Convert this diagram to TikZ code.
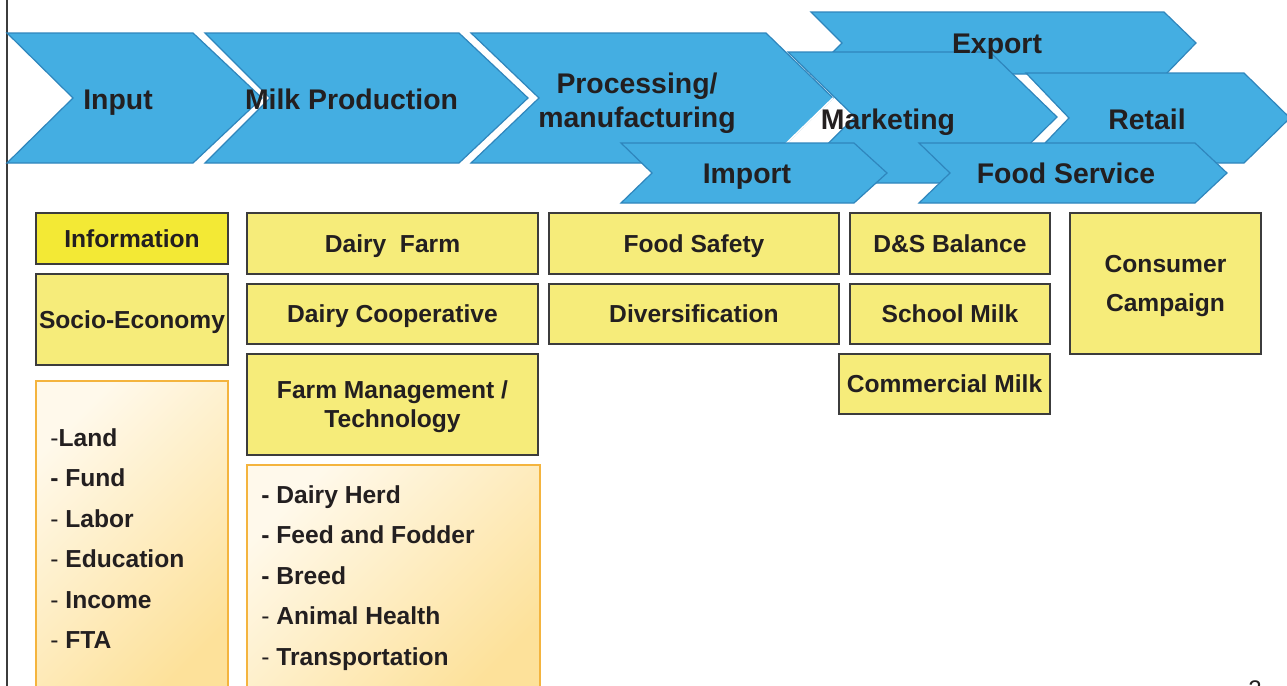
\documentclass[tikz,border=0pt]{standalone}
\usepackage{fontspec}
\setmainfont{Liberation Sans}
\definecolor{chevfill}{HTML}{44AEE2}
\definecolor{chevline}{HTML}{2F86BD}
\definecolor{boxfill}{HTML}{F6EC7A}
\definecolor{infofill}{HTML}{F3E935}
\definecolor{boxline}{HTML}{3C3C3C}
\definecolor{listline}{HTML}{F4B43E}
\definecolor{listlight}{HTML}{FFF9EB}
\definecolor{listdark}{HTML}{FDE19A}
\definecolor{textcol}{HTML}{231F20}
\tikzset{
  chev/.style={fill=chevfill, draw=chevline, line width=0.6pt, line join=miter},
  chevtext/.style={font=\bfseries\fontsize{14.2}{17}\selectfont, text=textcol, anchor=base, align=center},
  ybox/.style={rectangle, draw=boxline, fill=boxfill, line width=0.7pt, inner sep=0pt,
    text height=8.8pt, text depth=0pt, align=center, text=textcol,
    font=\bfseries\fontsize{12.3}{14.5}\selectfont},
  infobox/.style={ybox, fill=infofill, line width=1.2pt},
  listbox/.style={rectangle, draw=listline, line width=0.8pt, inner sep=0pt,
    top color=listlight, bottom color=listdark, shading angle=45},
  item/.style={anchor=base west, inner sep=0pt, text=textcol, font=\bfseries\fontsize{12.3}{14.5}\selectfont}
}
\begin{document}
\begin{tikzpicture}[x=0.5pt, y=-0.5pt]
    \clip (0,0) rectangle (1287,686);
    \fill[white] (0,0) rectangle (1287,686);
    \draw[boxline, line width=0.75pt] (7,-5) -- (7,700);

    % Chevrons
    \draw[chev] (7,33) -- (193,33) -- (262,98) -- (193,163) -- (7,163) -- (73,98) -- cycle;
    \draw[chev] (205,33) -- (459,33) -- (528,98) -- (459,163) -- (205,163) -- (270,98) -- cycle;
    \draw[chev] (811,12) -- (1164,12) -- (1196,43) -- (1166,74) -- (811,74) -- (842,43) -- cycle;
    \draw[chev] (788,52) -- (990,52) -- (1057,117) -- (990,183) -- (788,183) -- (855,117) -- cycle;
    \draw[chev] (1026,73) -- (1244,73) -- (1290,118) -- (1244,163) -- (1026,163) -- (1069,118) -- cycle;
    \draw[chev] (471,33) -- (766,33) -- (833,98) -- (766,163) -- (471,163) -- (539,98) -- cycle;
    \draw[white, line width=0.8pt] (833,98) -- (766,163);
    \draw[chev] (621,143) -- (854,143) -- (887,173) -- (854,203) -- (621,203) -- (652,173) -- cycle;
    \draw[chev] (919,143) -- (1195,143) -- (1227,173) -- (1195,203) -- (919,203) -- (950,173) -- cycle;

    \node (input) [chevtext] at (118,109) {Input};
    \node (milkprod) [chevtext] at (351.5,109) {Milk Production};
    \node (processing) [chevtext] at (637,127) {Processing/\\manufacturing};
    \node (export) [chevtext] at (997,53) {Export};
    \node (marketing) [chevtext] at (888,129) {Marketing};
    \node (retail) [chevtext] at (1147,129) {Retail};
    \node (import) [chevtext] at (747,183) {Import};
    \node (foodservice) [chevtext] at (1066,183) {Food Service};

    % Boxes
    \node (information) [infobox, minimum width=96pt, minimum height=25.5pt] at (132,238.5) {Information};
    \node (socio) [ybox, minimum width=96pt, minimum height=45.5pt] at (132,319.5) {Socio-Economy};
    \node (dairyfarm) [ybox, minimum width=145.5pt, minimum height=30.5pt] at (392.5,243.5) {Dairy\ \ Farm};
    \node (dairycoop) [ybox, minimum width=145.5pt, minimum height=30pt] at (392.5,314) {Dairy Cooperative};
    \node (farmmgmt) [ybox, text height=23.3pt, minimum width=145.5pt, minimum height=50.5pt] at (392.5,404.5) {Farm Management /\\Technology};
    \node (foodsafety) [ybox, minimum width=145pt, minimum height=30.5pt] at (694,243.5) {Food Safety};
    \node (diversification) [ybox, minimum width=145pt, minimum height=30pt] at (694,314) {Diversification};
    \node (dsbalance) [ybox, minimum width=100pt, minimum height=30.5pt] at (950,243.5) {D\&S Balance};
    \node (schoolmilk) [ybox, minimum width=100pt, minimum height=30pt] at (950,314) {School Milk};
    \node (commercialmilk) [ybox, minimum width=105.5pt, minimum height=30pt] at (944.5,384) {Commercial Milk};
    \node (consumer) [ybox, text height=28.3pt, minimum width=95.5pt, minimum height=70.5pt] at (1165.5,283.5) {Consumer\\[5pt]Campaign};

    % Lists
    \node (inputlist) [listbox, minimum width=96pt, minimum height=159.5pt] at (132,540.5) {};
    \node (land) [item] at (50,446) {{\mdseries -}Land};
    \node (fund) [item] at (50,486.5) {- Fund};
    \node (labor) [item] at (50,527) {{\mdseries -} Labor};
    \node (education) [item] at (50,567.5) {{\mdseries -} Education};
    \node (income) [item] at (50,608) {{\mdseries -} Income};
    \node (fta) [item] at (50,648.5) {{\mdseries -} FTA};

    \node (herdlist) [listbox, minimum width=146.5pt, minimum height=117.5pt] at (393.5,582.5) {};
    \node (herd) [item] at (261,503) {- Dairy Herd};
    \node (feed) [item] at (261,543.5) {- Feed and Fodder};
    \node (breed) [item] at (261,584) {- Breed};
    \node (health) [item] at (261,624.5) {{\mdseries -} Animal Health};
    \node (transport) [item] at (261,665) {{\mdseries -} Transportation};

    \node (pagenum) [anchor=base, inner sep=0pt, text=textcol, font=\fontsize{12}{14}\selectfont] at (1255,697) {2};
\end{tikzpicture}
\end{document}
